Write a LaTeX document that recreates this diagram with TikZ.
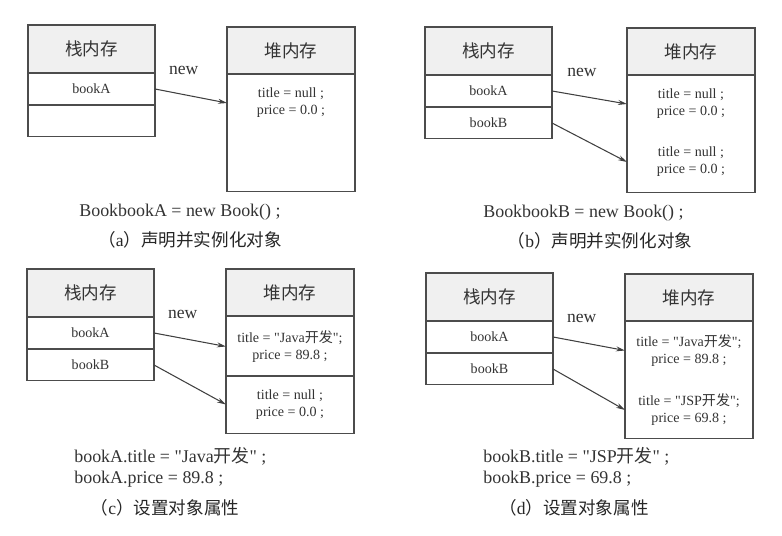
\documentclass[tikz,border=0pt]{standalone}
\usepackage{fontspec}
\setmainfont{Liberation Serif}[Ligatures=TeXOff]
\newfontfamily\cjk{Noto Sans CJK SC}
\usetikzlibrary{arrows.meta, positioning}

\begin{document}
\begin{tikzpicture}[x=0.02cm, y=-0.02cm,
        box/.style={draw=black!70, line width=0.6pt, outer sep=0pt, inner sep=0pt, text=black!80},
        stkhead/.style={box, fill=gray!12, minimum width=2.54cm, minimum height=0.96cm, font=\cjk\fontsize{10}{12}\selectfont},
        stkrow/.style={box, minimum width=2.54cm, minimum height=0.64cm, font=\fontsize{8}{9.6}\selectfont},
        heaphead/.style={box, fill=gray!12, minimum width=2.56cm, minimum height=0.94cm, font=\cjk\fontsize{10}{12}\selectfont},
        heapbody/.style={box, minimum width=2.56cm, minimum height=2.36cm},
        val/.style={align=center, text=black!80, font=\fontsize{8}{9.6}\selectfont, inner sep=0pt},
        code/.style={anchor=west, align=left, text=black!80, font=\fontsize{10.2}{12}\selectfont, inner sep=0pt},
        subcap/.style={text=black!85, font=\fontsize{10}{12}\selectfont, inner sep=0pt},
        ptr/.style={draw=black!75, line width=0.6pt, -{Stealth[length=0.18cm, width=0.1cm]}},
        newlbl/.style={pos=0.4, yshift=0.48cm, font=\fontsize{10}{12}\selectfont, text=black!80}
    ]
    \useasboundingbox (0,0) rectangle (782,536);

    % (a)
    \node[stkhead, anchor=north west] (stka) at (28,25) {栈内存};
    \node[stkrow, below=0pt of stka] (bookAa) {bookA};
    \node[stkrow, below=0pt of bookAa] (emptya) {};
    \node[heaphead, anchor=north west] (heapa) at (227,27) {堆内存};
    \node[heapbody, below=0pt of heapa] (bodya) {};
    \node[val] (objAa) at (291,103) {title = null ;\\price = 0.0 ;};
    \draw[ptr] (bookAa.east) -- node[newlbl] {new} (bodya.west |- objAa);
    \node[code] (codea) at (79,212) {BookbookA = new Book() ;};
    \node[subcap] (capa) at (190,240) {{\cjk （}a{\cjk ）声明并实例化对象}};

    % (b)
    \node[stkhead, anchor=north west] (stkb) at (425,27) {栈内存};
    \node[stkrow, below=0pt of stkb] (bookAb) {bookA};
    \node[stkrow, below=0pt of bookAb] (bookBb) {bookB};
    \node[heaphead, anchor=north west] (heapb) at (627,28) {堆内存};
    \node[heapbody, below=0pt of heapb] (bodyb) {};
    \node[val] (objAb) at (691,104) {title = null ;\\price = 0.0 ;};
    \node[val] (objBb) at (691,162) {title = null ;\\price = 0.0 ;};
    \draw[ptr] (bookAb.east) -- node[newlbl] {new} (bodyb.west |- objAb);
    \draw[ptr] (bookBb.east) -- (bodyb.west |- objBb);
    \node[code] (codeb) at (483,213) {BookbookB = new Book() ;};
    \node[subcap] (capb) at (600,241) {{\cjk （}b{\cjk ）声明并实例化对象}};

    % (c)
    \node[stkhead, anchor=north west] (stkc) at (27,269) {栈内存};
    \node[stkrow, below=0pt of stkc] (bookAc) {bookA};
    \node[stkrow, below=0pt of bookAc] (bookBc) {bookB};
    \node[heaphead, anchor=north west] (heapc) at (226,269) {堆内存};
    \node[heapbody, minimum height=1.2cm, below=0pt of heapc] (slotAc) {};
    \node[heapbody, minimum height=1.16cm, below=0pt of slotAc] (slotBc) {};
    \node[val] (objAc) at (290,346.5) {title = "Java{\cjk 开发}";\\price = 89.8 ;};
    \node[val] (objBc) at (290,404.5) {title = null ;\\price = 0.0 ;};
    \draw[ptr] (bookAc.east) -- node[newlbl] {new} (slotAc.west |- objAc);
    \draw[ptr] (bookBc.east) -- (slotBc.west |- objBc);
    \node[code] (codec) at (74,467.5) {bookA.title = "Java{\cjk 开发}" ;\\bookA.price = 89.8 ;};
    \node[subcap] (capc) at (165,508) {{\cjk （}c{\cjk ）设置对象属性}};

    % (d)
    \node[stkhead, anchor=north west] (stkd) at (426,273) {栈内存};
    \node[stkrow, below=0pt of stkd] (bookAd) {bookA};
    \node[stkrow, below=0pt of bookAd] (bookBd) {bookB};
    \node[heaphead, anchor=north west] (heapd) at (625,274) {堆内存};
    \node[heapbody, below=0pt of heapd] (bodyd) {};
    \node[val] (objAd) at (689,350.5) {title = "Java{\cjk 开发}";\\price = 89.8 ;};
    \node[val] (objBd) at (689,410) {title = "JSP{\cjk 开发}";\\price = 69.8 ;};
    \draw[ptr] (bookAd.east) -- node[newlbl] {new} (bodyd.west |- objAd);
    \draw[ptr] (bookBd.east) -- (bodyd.west |- objBd);
    \node[code] (coded) at (483,467.5) {bookB.title = "JSP{\cjk 开发}" ;\\bookB.price = 69.8 ;};
    \node[subcap] (capd) at (574,508) {{\cjk （}d{\cjk ）设置对象属性}};

\end{tikzpicture}
\end{document}
